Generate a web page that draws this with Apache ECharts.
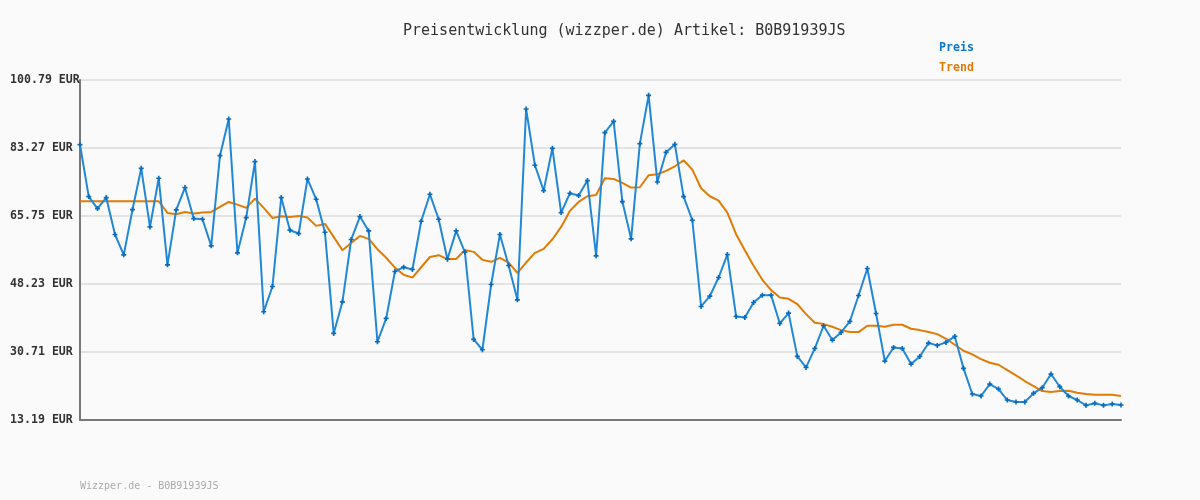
<!DOCTYPE html>
<html>
<head>
<meta charset="utf-8">
<script src="https://cdn.jsdelivr.net/npm/echarts@6/dist/echarts.min.js"></script>
<style>
html,body{margin:0;padding:0;background:#fafafa;}
#chart{width:1200px;height:500px;}
</style>
</head>
<body>
<div id="chart"></div>
<script>
const titleText = 'Preisentwicklung (wizzper.de) Artikel: B0B91939JS';
const footerText = 'Wizzper.de - B0B91939JS';
const seriesNames = ['Preis', 'Trend'];
const yMin = 13.19;
const yMax = 100.79;
const yStep = 17.52;

const preis = [
  84.14, 70.76, 67.67, 70.5, 60.98, 55.74, 67.4, 78.04, 62.94, 75.47,
  53.16, 67.32, 73.07, 65.09, 64.92, 58.06, 81.3, 90.74, 56.25, 65.35,
  79.76, 41.07, 47.59, 70.5, 62.09, 61.23, 75.29, 70.06, 61.57, 35.49,
  43.64, 59.69, 65.6, 61.91, 33.35, 39.36, 51.45, 52.56, 51.96, 64.4,
  71.35, 64.92, 54.62, 61.91, 56.43, 33.95, 31.29, 48.1, 60.98, 52.99,
  44.16, 93.31, 78.82, 72.29, 83.19, 66.63, 71.61, 71.01, 74.87, 55.48,
  87.22, 90.14, 69.46, 59.86, 84.39, 96.83, 74.52, 82.16, 84.22, 70.76,
  64.66, 42.44, 45.1, 49.9, 55.82, 39.87, 39.61, 43.47, 45.36, 45.36,
  38.07, 40.73, 29.57, 26.74, 31.63, 37.47, 33.78, 35.75, 38.58, 45.27,
  52.22, 40.64, 28.37, 31.89, 31.63, 27.6, 29.57, 33.01, 32.41, 33.18,
  34.72, 26.49, 19.88, 19.37, 22.45, 21.17, 18.34, 17.82, 17.82, 20.05,
  21.51, 25.03, 21.77, 19.37, 18.34, 16.96, 17.48, 16.96, 17.31, 17.05
];

const trend = [
  69.55, 69.55, 69.55, 69.55, 69.55, 69.55, 69.55, 69.55, 69.55, 69.55,
  66.54, 66.2, 66.8, 66.37, 66.63, 66.8, 68.09, 69.37, 68.69, 67.83,
  70.24, 67.83, 65.26, 65.69, 65.52, 65.77, 65.35, 63.2, 63.71, 60.37,
  56.94, 58.82, 60.62, 59.86, 57.2, 55.0, 52.45, 50.6, 49.86, 52.55,
  55.18, 55.65, 54.66, 54.66, 57.0, 56.51, 54.45, 53.94, 54.97, 53.76,
  51.1, 53.76, 56.25, 57.28, 59.77, 62.94, 67.06, 69.37, 70.84, 71.18,
  75.47, 75.3, 74.27, 73.07, 73.15, 76.24, 76.5, 77.36, 78.56, 80.1,
  77.7, 72.9, 70.84, 69.72, 66.63, 61.06, 56.94, 52.91, 49.31, 46.65,
  44.76, 44.42, 43.04, 40.47, 38.24, 37.9, 37.21, 36.35, 35.84, 35.84,
  37.47, 37.47, 37.21, 37.73, 37.73, 36.7, 36.35, 35.84, 35.32, 34.12,
  32.58, 31.03, 30.09, 28.89, 27.94, 27.43, 26.06, 24.68, 23.23, 21.94,
  20.65, 20.4, 20.65, 20.73, 20.22, 19.88, 19.71, 19.71, 19.71, 19.37
];

const categories = preis.map((_, i) => String(i + 1));

const chart = echarts.init(document.getElementById('chart'), null, {renderer: 'canvas'});
const mono = 'DejaVu Sans Mono, Liberation Mono, monospace';

chart.setOption({
  animation: false,
  backgroundColor: '#fafafa',
  title: {
    text: titleText,
    left: 398,
    top: 19,
    textStyle: {fontFamily: mono, fontSize: 15, fontWeight: 'normal', color: '#333333'}
  },
  legend: {
    data: [
      {name: seriesNames[0], textStyle: {color: '#0b77c6'}},
      {name: seriesNames[1], textStyle: {color: '#de7b06'}}
    ],
    orient: 'vertical',
    left: 929,
    top: 36,
    itemWidth: 0,
    itemHeight: 0,
    itemGap: 6,
    icon: 'rect',
    selectedMode: false,
    textStyle: {fontFamily: mono, fontSize: 11.6, fontWeight: 'bold', lineHeight: 14}
  },
  graphic: [{
    type: 'text',
    left: 80,
    top: 481,
    style: {text: footerText, fontFamily: mono, fontSize: 10, fill: '#aaaaaa'}
  }],
  grid: {left: 80, right: 79, top: 80, bottom: 80, containLabel: false},
  xAxis: {
    type: 'category',
    data: categories,
    boundaryGap: false,
    axisLine: {show: true, lineStyle: {color: '#777777', width: 2}},
    axisTick: {show: false},
    axisLabel: {show: false},
    splitLine: {show: false}
  },
  yAxis: {
    type: 'value',
    min: yMin,
    max: yMax,
    interval: yStep,
    axisLine: {show: true, lineStyle: {color: '#777777', width: 2}},
    axisTick: {show: false},
    axisLabel: {
      align: 'left',
      margin: 70,
      fontFamily: mono,
      fontSize: 11.6,
      fontWeight: 'bold',
      color: '#333333',
      formatter: v => v.toFixed(2) + ' EUR'
    },
    splitLine: {show: true, lineStyle: {color: '#e4e4e4', width: 2}}
  },
  series: [
    {
      name: seriesNames[0],
      type: 'line',
      data: preis,
      z: 3,
      symbol: 'path://M2,0L4,0L4,2L6,2L6,4L4,4L4,6L2,6L2,4L0,4L0,2L2,2Z',
      symbolSize: 5,
      showSymbol: true,
      showAllSymbol: true,
      itemStyle: {color: '#0a6cba'},
      lineStyle: {color: '#2288d6', width: 2}
    },
    {
      name: seriesNames[1],
      type: 'line',
      data: trend,
      z: 2,
      symbol: 'none',
      itemStyle: {color: '#de7b06'},
      lineStyle: {color: '#e07c06', width: 2}
    }
  ]
});
</script>
</body>
</html>
